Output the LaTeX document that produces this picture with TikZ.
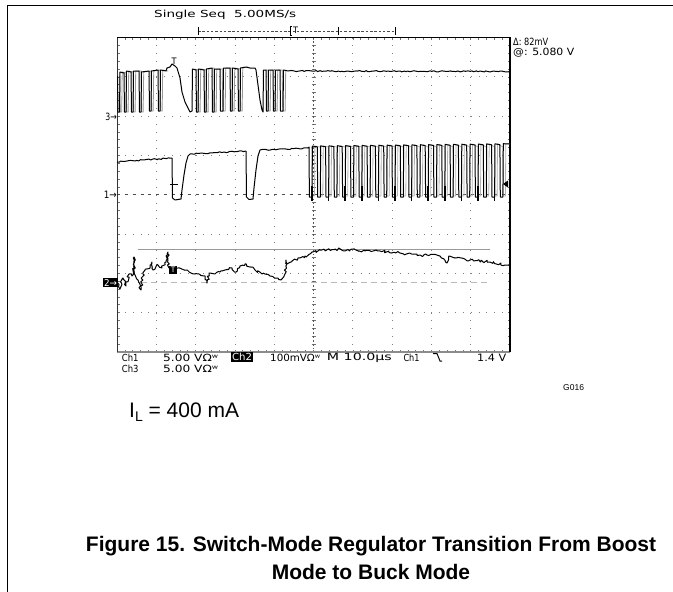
\documentclass[tikz,border=0pt]{standalone}
\usepackage{graphicx}
\usepackage{fontspec}
\setmainfont{Liberation Sans}
\newfontfamily\scopefont{DejaVu Sans}
\newcommand{\stx}[2]{\resizebox{#1pt}{7.4pt}{\scopefont #2}}
\usetikzlibrary{decorations.pathmorphing}
\begin{document}
\begin{tikzpicture}[x=1pt,y=-1pt,
  trace/.style={line width=1pt, black, line join=round},
  shadow/.style={line width=0.8pt, black!40, line join=round},
  noise/.style={decorate, decoration={random steps, segment length=2pt, amplitude=0.6pt}},
  noisetwo/.style={decorate, decoration={random steps, segment length=2pt, amplitude=1.4pt}},
  griddot/.style={black!50, line width=0.8pt, dash pattern=on 0.8pt off 7.06pt},
  stxt/.style={inner sep=0pt, anchor=west},
  tick/.style={black!55, line width=0.6pt},
  frameline/.style={black, line width=1.3pt}]
\pgfmathsetseed{12}
\useasboundingbox (0,0) rectangle (673,592);
\fill[white] (0,0) rectangle (673,592);
% outer frame
\draw[frameline] (7.5,5.5) -- (673,5.5);
\draw[frameline] (7.5,5) -- (7.5,592);
% grid
\foreach \i in {1,...,9} \draw[griddot] ({117+39.3*\i},37.5) -- ({117+39.3*\i},352);
\foreach \j in {1,...,7} \draw[griddot] (117,{37.5+39.3125*\j}) -- (510,{37.5+39.3125*\j});
% edge ticks
\foreach \k in {1,...,49} {
  \draw[tick] ({117+7.86*\k},37.5) -- ({117+7.86*\k},40);
  \draw[tick] ({117+7.86*\k},352) -- ({117+7.86*\k},349.5);
}
\foreach \k in {1,...,39} {
  \draw[tick] (117,{37.5+7.86*\k}) -- (119.5,{37.5+7.86*\k});
  \draw[tick] (510,{37.5+7.86*\k}) -- (507.5,{37.5+7.86*\k});
  \draw[tick] (311.5,{37.5+7.86*\k}) -- (315.5,{37.5+7.86*\k});
}
\draw[black!70, line width=0.8pt, dash pattern=on 3pt off 4.86pt] (117,194.75) -- (510,194.75);
\draw[black!65, line width=0.7pt, dash pattern=on 1.5pt off 2.43pt] (313.5,37.5) -- (313.5,352);
% screen frame
\draw[black!45, line width=1.2pt] (117,352) -- (510,352);
\draw[black!80, line width=1pt] (117,352) -- (117,37.5);
\draw[black, line width=1.2pt] (117,37.5) -- (510,37.5) -- (510,352);
% cursors
\draw[black!40, line width=1pt] (138,249.3) -- (490,249.3);
\draw[black!28, line width=1.4pt, dash pattern=on 6pt off 4pt] (141,282.5) -- (490,282.5);
% channel 3
\begin{scope}[xshift=2.2pt]
\draw[shadow] (117.5,76) -- (118,112) -- (119.5,112) -- (120,72) -- (124,73) -- (124.5,112) -- (126,112) -- (126.5,71) -- (131,72) -- (131.5,112) -- (133,112) -- (133.5,71) -- (139,71) -- (139.5,112) -- (141,112) -- (141.5,72) -- (149,71) -- (149.5,111) -- (151,111) -- (151.5,71) -- (158,70) -- (158.5,111) -- (160,111) -- (160.5,70) -- (166,71);
\draw[shadow] (192.5,69) -- (196,70) -- (196.5,112) -- (198,112) -- (198.5,69) -- (204,70) -- (204.5,112) -- (206,112) -- (206.5,69) -- (212,68) -- (212.5,112) -- (214,112) -- (214.5,69) -- (220,69) -- (220.5,111) -- (223,111) -- (223.5,68) -- (230,68) -- (230.5,111) -- (232,111) -- (232.5,68) -- (238,69) -- (238.5,111) -- (240,111) -- (240.5,68) -- (246,67);
\draw[shadow] (263.5,70) -- (266,70) -- (266.5,111) -- (268,111) -- (268.5,70) -- (273,70) -- (273.5,111) -- (275,111) -- (275.5,70) -- (280,70) -- (280.5,111) -- (283,111) -- (283.5,70);
\end{scope}
\draw[trace] (117.5,76) -- (118,112) -- (119.5,112) -- (120,72) -- (124,73) -- (124.5,112) -- (126,112) -- (126.5,71) -- (131,72) -- (131.5,112) -- (133,112) -- (133.5,71) -- (139,71) -- (139.5,112) -- (141,112) -- (141.5,72) -- (149,71) -- (149.5,111) -- (151,111) -- (151.5,71) -- (158,70) -- (158.5,111) -- (160,111) -- (160.5,70) -- (166,71) -- (167,68) -- (170,67) -- (172,64) -- (175,66) -- (177,68) -- (180,78) -- (182,92) -- (185,102) -- (188,108) -- (190,112) -- (192,111) -- (192.5,69) -- (196,70) -- (196.5,112) -- (198,112) -- (198.5,69) -- (204,70) -- (204.5,112) -- (206,112) -- (206.5,69) -- (212,68) -- (212.5,112) -- (214,112) -- (214.5,69) -- (220,69) -- (220.5,111) -- (223,111) -- (223.5,68) -- (230,68) -- (230.5,111) -- (232,111) -- (232.5,68) -- (238,69) -- (238.5,111) -- (240,111) -- (240.5,68) -- (246,67) -- (250,68) -- (255,68) -- (256,70) -- (258,85) -- (260,100) -- (262,110) -- (263,112) -- (263.5,70) -- (266,70) -- (266.5,111) -- (268,111) -- (268.5,70) -- (273,70) -- (273.5,111) -- (275,111) -- (275.5,70) -- (280,70) -- (280.5,111) -- (283,111) -- (283.5,70) -- (288,71);
\draw[trace, noise] (288,71) -- (510,71.5);
\node[inner sep=0pt] (t3) at (174,61) {\resizebox{5pt}{6.5pt}{\scopefont T}};
% channel 1
\draw[trace, noise] (117,162) -- (172,158);
\draw[trace] (172,158) -- (172.5,198) -- (175,200) -- (181,199) -- (182,190) -- (184,175) -- (186,163) -- (188,156) -- (190,154);
\draw[trace, noise] (190,154) -- (246,151);
\draw[trace] (246,151) -- (246.5,197) -- (249,199.5) -- (253,199) -- (254,188) -- (256,170) -- (258,156) -- (260,150);
\draw[trace, noise] (260,150) -- (308,148);
\draw[shadow, black!30, xshift=3pt] (308,148) \foreach \k in {0,...,23} { -- ({309+8.3*\k},147) -- ({309.4+8.3*\k},196) -- ({311.5+8.3*\k},196) -- ({311.9+8.3*\k},{146-0.1*\k}) } -- (507,144);
\draw[trace] (308,148) \foreach \k in {0,...,23} { -- ({309+8.3*\k},{147-0.1*\k}) -- ({309.4+8.3*\k},197) -- ({312+8.3*\k},197) -- ({312.4+8.3*\k},{146-0.1*\k}) } -- (510,144);
\foreach \k in {0,2,...,23} \draw[black, line width=1.5pt] ({312+8.3*\k},186) -- ({312+8.3*\k},200.5);
\draw[black, line width=0.8pt] (170,184.5) -- (178,184.5);
\fill[black] (503,184) -- (508,180.5) -- (508,187.5) -- cycle;
% channel 2
\draw[trace, noisetwo] (117,282) -- (120,289) -- (123,278) -- (126,286) -- (129,274) -- (132,276) -- (134,257) -- (135,275) -- (138,280) -- (141,290) -- (143,274) -- (145,270) -- (150,268) -- (152,262) -- (153,270) -- (158,265) -- (162,268) -- (166,262) -- (168,252) -- (169,268) -- (172,270) -- (178,268) -- (185,270) -- (195,274) -- (205,276) -- (207,283) -- (209,273) -- (215,274) -- (220,272) -- (225,270) -- (232,268) -- (236,272) -- (240,266) -- (245,264) -- (250,267) -- (255,270) -- (262,274) -- (270,276) -- (275,278) -- (281,280) -- (285,274) -- (286,260) -- (287,264) -- (292,261) -- (300,258) -- (305,256) -- (310,254) -- (313,252) -- (320,250) -- (335,249) -- (350,250) -- (365,251) -- (380,251) -- (400,253) -- (420,255) -- (440,256) -- (447,263) -- (449,256) -- (455,258) -- (470,260) -- (490,262) -- (505,265) -- (510,266);
\node[fill=black, text=white, inner sep=0.8pt, minimum width=7.5pt, minimum height=8pt] (t2) at (173,270) {\resizebox{4.5pt}{5.5pt}{\scopefont T}};
% channel markers
\node[stxt, anchor=east] (m3) at (117,117) {\stx{11.5}{3→}};
\node[stxt, anchor=east] (m1) at (117,195) {\stx{13}{1→}};
\node[fill=black, text=white, inner sep=1pt, anchor=east] (m2) at (118.3,282.5) {\resizebox{13pt}{7pt}{\scopefont 2→}};
% header
\node[stxt] (hdr) at (154,15) {\stx{142}{Single Seq\ \ 5.00MS/s}};
\draw[black!70, line width=0.7pt, dash pattern=on 2.5pt off 1.8pt] (198,31) -- (395,31);
\draw[black, line width=0.8pt] (198,27) -- (198,35) (338,27) -- (338,35) (395,27) -- (395,35);
\draw[black, line width=0.8pt] (291.5,26.5) -- (290,26.5) -- (290,35.5) -- (291.5,35.5);
\node[inner sep=0pt] (tb) at (295.5,30.5) {\resizebox{5pt}{6.5pt}{\scopefont T}};
\node[stxt] (dl) at (513,42) {\stx{35}{Δ: 82mV}};
\node[stxt] (at) at (513,52.5) {\stx{61}{@: 5.080 V}};
% bottom status
\node[stxt] (c1) at (121.7,357.5) {\stx{16.6}{Ch1}};
\node[stxt] (v1) at (163,357.5) {\stx{55}{5.00 VΩʷ}};
\node[fill=black, text=white, inner sep=1.2pt, anchor=west] (c2) at (230.7,357) {\stx{20}{Ch2}};
\node[stxt] (v2) at (270,357.5) {\stx{50}{100mVΩʷ}};
\node[stxt] (tm) at (326.7,357.5) {\stx{65}{M 10.0µs}};
\node[stxt] (c1b) at (403.3,357.5) {\stx{16}{Ch1}};
\draw[black, line width=1pt] (433,353.5) -- (437,353.5) -- (440,361) -- (442,361);
\node[stxt] (lv) at (477,357.5) {\stx{29}{1.4 V}};
\node[stxt] (c3) at (121.7,368.5) {\stx{16.6}{Ch3}};
\node[stxt] (v3) at (163,368.5) {\stx{55}{5.00 VΩʷ}};
% labels
\node[font=\fontsize{8.5}{9}\selectfont, inner sep=0pt, anchor=west] (g) at (563,387.5) {G016};
\node[font=\fontsize{21}{23}\selectfont, inner sep=0pt, anchor=west] (il) at (129,412) {I\raisebox{-0.35ex}{\fontsize{14}{14}\selectfont L} = 400 mA};
\node[font=\bfseries\fontsize{21}{24}\selectfont, inner sep=0pt] (cap1) at (371,546) {Figure 15. Switch-Mode Regulator Transition From Boost};
\node[font=\bfseries\fontsize{21}{24}\selectfont, inner sep=0pt] (cap2) at (371,572) {Mode to Buck Mode};
\end{tikzpicture}
\end{document}
